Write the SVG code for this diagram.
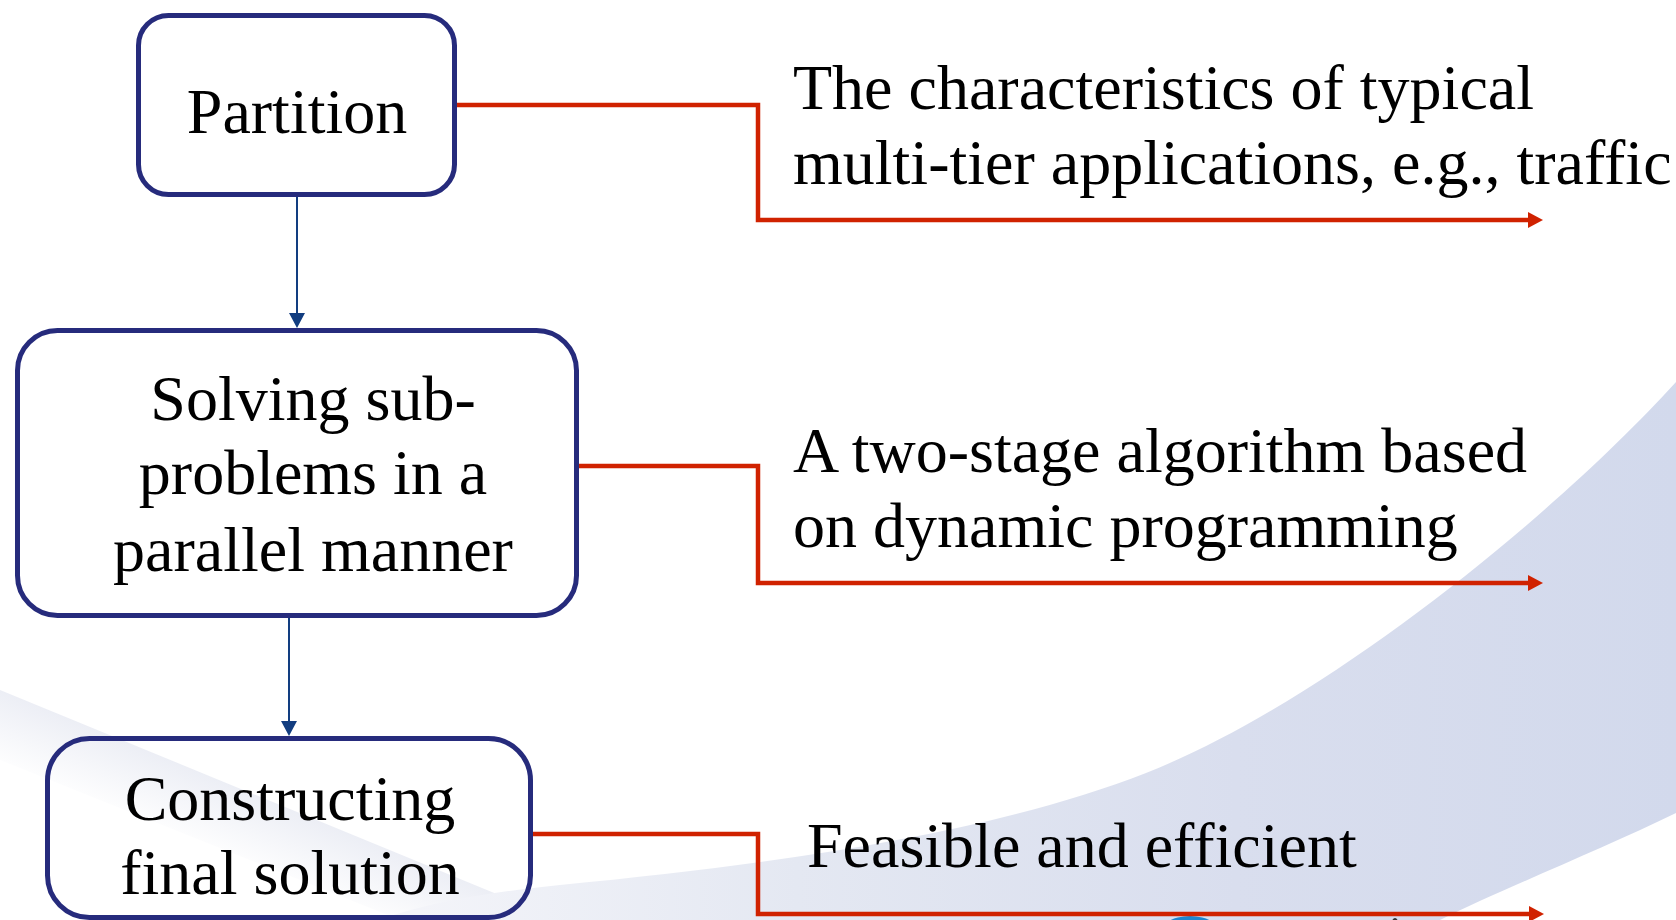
<svg xmlns="http://www.w3.org/2000/svg" width="1676" height="920" viewBox="0 0 1676 920">
  <style>
    .box { fill: none; stroke: #262b7c; stroke-width: 5; }
    .label { font-family: "Liberation Serif", "Times New Roman", serif; font-size: 64px; fill: #000; }
    .mid { text-anchor: middle; }
    .flow { fill: none; stroke: #123d80; stroke-width: 2; }
    .link { fill: none; stroke: #d02200; stroke-width: 4.5; stroke-linejoin: miter; }
  </style>
  <defs>
    <linearGradient id="bandFill" gradientUnits="userSpaceOnUse" x1="420" y1="0" x2="1676" y2="0">
      <stop offset="0" stop-color="#f3f4f9"/>
      <stop offset="0.3" stop-color="#e4e8f2"/>
      <stop offset="0.65" stop-color="#d9deee"/>
      <stop offset="1" stop-color="#d2d9ec"/>
    </linearGradient>
    <linearGradient id="streakFill" gradientUnits="userSpaceOnUse" x1="280" y1="804" x2="252" y2="872">
      <stop offset="0" stop-color="#eceef5" stop-opacity="1"/>
      <stop offset="1" stop-color="#eceef5" stop-opacity="0"/>
    </linearGradient>
    <marker id="redArrow" viewBox="0 0 15 16" refX="1" refY="8" markerWidth="15" markerHeight="16" markerUnits="userSpaceOnUse" orient="auto">
      <path d="M0,0 L15,8 L0,16 Z" fill="#d02200"/>
    </marker>
    <marker id="blueArrow" viewBox="0 0 15 16" refX="1" refY="8" markerWidth="15" markerHeight="16" markerUnits="userSpaceOnUse" orient="auto">
      <path d="M0,0 L15,8 L0,16 Z" fill="#123d80"/>
    </marker>
  </defs>

  <!-- background -->
  <rect x="0" y="0" width="1676" height="920" fill="#ffffff"/>
  <g id="background">
    <path d="M0,690 L560,920 L400,920 L0,760 Z" fill="url(#streakFill)"/>
    <path d="M1676,382 C1560,510 1330,700 1146,773 C1000,830 800,862 560,885 C480,893 420,905 380,920 L1440,920 C1500,890 1600,850 1676,813 Z" fill="url(#bandFill)"/>
    <ellipse cx="1190" cy="936" rx="32" ry="20" fill="#1e88d0"/>
    <ellipse cx="1395" cy="932" rx="5" ry="14" fill="#333333"/>
  </g>

  <!-- connectors -->
  <g id="connectors">
    <path class="flow" d="M297,197 L297,314" marker-end="url(#blueArrow)"/>
    <path class="flow" d="M289,618 L289,722" marker-end="url(#blueArrow)"/>
    <path class="link" d="M457,105 L758,105 L758,220 L1529,220" marker-end="url(#redArrow)"/>
    <path class="link" d="M579,466 L758,466 L758,583 L1529,583" marker-end="url(#redArrow)"/>
    <path class="link" d="M533,834 L758,834 L758,914 L1530,914" marker-end="url(#redArrow)"/>
  </g>

  <!-- process steps -->
  <g id="partition">
    <rect class="box" x="138.5" y="15.5" width="316" height="179" rx="30"/>
    <text class="label mid" x="297" y="133">Partition</text>
  </g>
  <g id="solving">
    <rect class="box" x="17.5" y="330.5" width="559" height="285" rx="40"/>
    <text class="label mid" x="313" y="420">Solving sub-</text>
    <text class="label mid" x="313" y="494">problems in a</text>
    <text class="label mid" x="313" y="571">parallel manner</text>
  </g>
  <g id="constructing">
    <rect class="box" x="47.5" y="738.5" width="483" height="179" rx="42"/>
    <text class="label mid" x="290" y="820">Constructing</text>
    <text class="label mid" x="290" y="894">final solution</text>
  </g>

  <!-- notes -->
  <g id="note-partition">
    <text class="label" x="793" y="109">The characteristics of typical</text>
    <text class="label" x="793" y="184">multi-tier applications, e.g., traffic</text>
  </g>
  <g id="note-solving">
    <text class="label" x="793" y="472">A two-stage algorithm based</text>
    <text class="label" x="793" y="547">on dynamic programming</text>
  </g>
  <g id="note-constructing">
    <text class="label" x="807" y="867">Feasible and efficient</text>
  </g>
</svg>
